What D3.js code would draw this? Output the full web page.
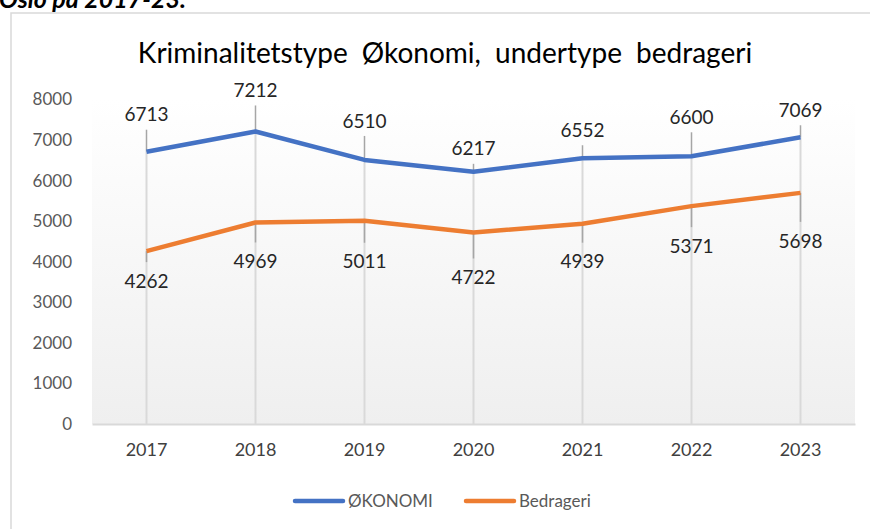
<!DOCTYPE html>
<head>
  <meta charset="utf-8">
  <script src="https://d3js.org/d3.v7.min.js"></script>
  <style>
    body { margin: 0; background: #fff; }
    text { font-family: Lato, "Open Sans", sans-serif; }
  </style>
</head>
<body>
  <div id="graph"></div>
  <script>
    // data
    var years = ["2017", "2018", "2019", "2020", "2021", "2022", "2023"];
    var okonomi = [6713, 7212, 6510, 6217, 6552, 6600, 7069];
    var bedrageri = [4262, 4969, 5011, 4722, 4939, 5371, 5698];
    var yTicks = [0, 1000, 2000, 3000, 4000, 5000, 6000, 7000, 8000];

    // label placement (Excel auto-placed labels)
    var okoLabelDy = [-37, -41, -39, -23, -28, -39, -27];
    var bedLabelDy = [30, 39, 41, 45, 38, 40, 48];

    var width = 870, height = 529;
    var svg = d3.select("#graph").append("svg")
      .attr("width", width)
      .attr("height", height);

    // gradient for plot area
    var grad = svg.append("defs").append("linearGradient")
      .attr("id", "bg").attr("x1", 0).attr("y1", 0).attr("x2", 0).attr("y2", 1);
    grad.append("stop").attr("offset", "0%").attr("stop-color", "#ffffff");
    grad.append("stop").attr("offset", "100%").attr("stop-color", "#efefef");

    // header text cut off above the chart
    svg.append("text")
      .attr("x", -1).attr("y", 8)
      .attr("font-size", 25).attr("font-weight", "bold").attr("font-style", "italic")
      .attr("fill", "#000")
      .text("Oslo på 2017-23.");

    // chart frame
    svg.append("rect")
      .attr("x", 11).attr("y", 13)
      .attr("width", 880).attr("height", 540)
      .attr("fill", "#fff").attr("stroke", "#d9d9d9").attr("stroke-width", 1.5);

    var plotLeft = 92, plotRight = 855, plotTop = 99.5, plotBottom = 424;

    var x = d3.scaleBand()
      .domain(years)
      .range([plotLeft, plotRight]);
    var cx = d => x(d) + x.bandwidth() / 2;

    var y = d3.scaleLinear()
      .domain([0, 8000])
      .range([plotBottom, plotTop]);

    svg.append("rect")
      .attr("x", plotLeft).attr("y", plotTop)
      .attr("width", plotRight - plotLeft).attr("height", plotBottom - plotTop)
      .attr("fill", "url(#bg)");

    // title
    svg.append("text")
      .attr("x", 445).attr("y", 63)
      .attr("text-anchor", "middle")
      .attr("font-size", 28)
      .attr("word-spacing", 7)
      .attr("fill", "#000")
      .text("Kriminalitetstype Økonomi, undertype bedrageri");

    // y axis labels
    var yAxis = d3.axisLeft(y).tickValues(yTicks).tickSize(0).tickPadding(0)
      .tickFormat(d3.format("d"));
    var ya = svg.append("g")
      .attr("transform", "translate(72,0)")
      .call(yAxis);
    ya.select(".domain").remove();
    ya.selectAll("text")
      .attr("font-size", 17).attr("fill", "#595959")
      .attr("font-family", "Lato, sans-serif");

    // x axis
    var xAxis = d3.axisBottom(x).tickSize(0).tickPadding(0);
    var xa = svg.append("g")
      .attr("transform", "translate(0," + plotBottom + ")")
      .call(xAxis);
    xa.select(".domain").attr("stroke", "#d9d9d9").attr("stroke-width", 2);
    xa.selectAll("text")
      .attr("font-size", 18).attr("fill", "#404040")
      .attr("font-family", "Lato, sans-serif")
      .attr("dy", "1.75em");

    // drop lines
    svg.selectAll(".drop").data(years).enter()
      .append("line")
      .attr("class", "drop")
      .attr("x1", d => cx(d)).attr("x2", d => cx(d))
      .attr("y1", (d, i) => y(Math.max(okonomi[i], bedrageri[i])))
      .attr("y2", plotBottom)
      .attr("stroke", "#d9d9d9").attr("stroke-width", 2);

    // leader lines
    svg.selectAll(".leadO").data(okonomi).enter()
      .append("line")
      .attr("x1", (d, i) => cx(years[i])).attr("x2", (d, i) => cx(years[i]))
      .attr("y1", (d, i) => y(d) + okoLabelDy[i] + 15)
      .attr("y2", d => y(d))
      .attr("stroke", "#a6a6a6").attr("stroke-width", 1.5);
    svg.selectAll(".leadB").data(bedrageri).enter()
      .append("line")
      .attr("x1", (d, i) => cx(years[i])).attr("x2", (d, i) => cx(years[i]))
      .attr("y1", d => y(d))
      .attr("y2", (d, i) => y(d) + bedLabelDy[i] - 19)
      .attr("stroke", "#a6a6a6").attr("stroke-width", 1.5);

    // lines
    var line = d3.line()
      .x((d, i) => cx(years[i]))
      .y(d => y(d));

    svg.selectAll(".line").data([
        { values: okonomi, color: "#4472c4" },
        { values: bedrageri, color: "#ed7d31" }
      ]).enter()
      .append("path")
      .attr("class", "line")
      .attr("d", d => line(d.values))
      .attr("stroke", d => d.color)
      .attr("stroke-width", 4.5)
      .attr("stroke-linejoin", "round")
      .attr("fill", "none");

    // data labels
    svg.selectAll(".labO").data(okonomi).enter()
      .append("text")
      .attr("x", (d, i) => cx(years[i]))
      .attr("y", (d, i) => y(d) + okoLabelDy[i])
      .attr("dy", "0.35em")
      .attr("text-anchor", "middle")
      .attr("font-size", 19).attr("fill", "#262626")
      .text(d => d);
    svg.selectAll(".labB").data(bedrageri).enter()
      .append("text")
      .attr("x", (d, i) => cx(years[i]))
      .attr("y", (d, i) => y(d) + bedLabelDy[i])
      .attr("dy", "0.35em")
      .attr("text-anchor", "middle")
      .attr("font-size", 19).attr("fill", "#262626")
      .text(d => d);

    // legend
    var legend = [
      { name: "ØKONOMI", color: "#4472c4", x: 295 },
      { name: "Bedrageri", color: "#ed7d31", x: 466 }
    ];
    var lg = svg.selectAll(".legend").data(legend).enter()
      .append("g")
      .attr("transform", d => "translate(" + d.x + ",501)");
    lg.append("line")
      .attr("x1", 0).attr("x2", 48)
      .attr("stroke", d => d.color).attr("stroke-width", 4.5)
      .attr("stroke-linecap", "round");
    lg.append("text")
      .attr("x", 53).attr("dy", "0.35em")
      .attr("font-size", 17).attr("fill", "#595959")
      .text(d => d.name);
  </script>
</body>
